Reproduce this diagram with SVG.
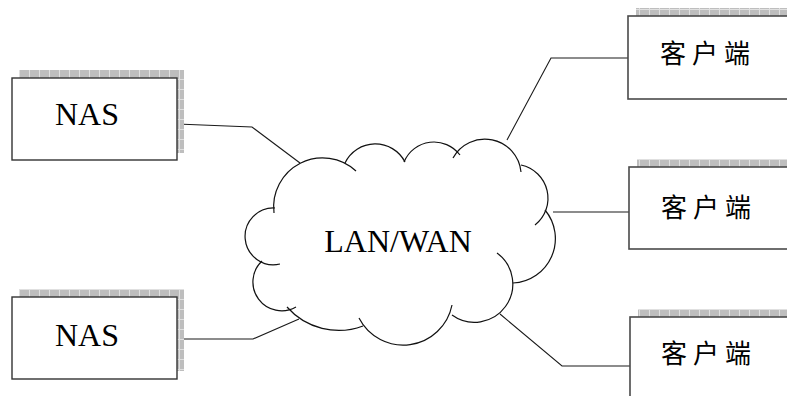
<svg xmlns="http://www.w3.org/2000/svg" width="787" height="396" viewBox="0 0 787 396">
  <defs>
    <!-- stippled grey texture used for the drop shadows -->
    <pattern id="shade" width="10" height="10" patternUnits="userSpaceOnUse">
      <rect width="10" height="10" fill="#bebebe"/>
      <path d="M9.5 0V10M0 9.5H10" stroke="#e0e0e0" stroke-width="1"/>
    </pattern>
  </defs>
  <style>
    .shadow { fill: url(#shade); }
    .box { fill: #ffffff; stroke: #333333; stroke-width: 1.4; }
    .client .box { stroke: #4a4a4a; stroke-width: 1.6; }
    .lbl { font-family: "Liberation Serif", "Times New Roman", serif; font-size: 32px; fill: #000000; }
    .cjk { font-family: "Noto Sans CJK SC", "Noto Sans CJK TC", sans-serif; font-size: 26px; letter-spacing: 6px; fill: #000000; }
    .wire { fill: none; stroke: #1a1a1a; stroke-width: 1.1; }
    .cloud path { fill: none; stroke: #111111; stroke-width: 1.2; }
  </style>
  <rect width="787" height="396" fill="#ffffff"/>

  <!-- connectors -->
  <g id="connectors">
    <polyline class="wire" points="177,124 252,127 300,163"/>
    <polyline class="wire" points="177,339 253,339 299,319"/>
    <polyline class="wire" points="507,140 551,58 628,58"/>
    <polyline class="wire" points="553,212 629,212"/>
    <polyline class="wire" points="500,314 562,366 630,366"/>
  </g>

  <!-- network cloud built from overlapping arcs -->
  <g id="cloud" class="cloud">
    <path d="M274 213 A49 49 0 0 1 356 171"/>
    <path d="M345 163 A33.5 33.5 0 0 1 405 162"/>
    <path d="M404 162 A32.5 32.5 0 0 1 460 155"/>
    <path d="M453 158 A36.3 36.3 0 0 1 521 172"/>
    <path d="M521 165 A34 34 0 0 1 535 225"/>
    <path d="M545 210 A44.5 44.5 0 0 1 513 283"/>
    <path d="M497 253 A38.3 38.3 0 0 1 452 315"/>
    <path d="M359 318 A49.7 49.7 0 0 0 452 305"/>
    <path d="M287 307 A69 69 0 0 0 363 326"/>
    <path d="M262 261 A28.8 28.8 0 0 0 296 307"/>
    <path d="M275 208 A28.4 28.4 0 1 0 280 264"/>
    <text class="lbl" x="398" y="252" text-anchor="middle">LAN/WAN</text>
  </g>

  <g id="nas1">
    <rect class="shadow" x="19" y="70" width="165" height="83"/>
    <rect class="box" x="12" y="78" width="165" height="82"/>
    <text class="lbl" x="55" y="125">NAS</text>
  </g>

  <g id="nas2">
    <rect class="shadow" x="19" y="289" width="165" height="82"/>
    <rect class="box" x="12" y="297" width="165" height="82"/>
    <text class="lbl" x="55" y="346">NAS</text>
  </g>

  <g id="client1" class="client">
    <rect class="shadow" x="636" y="8" width="160" height="83"/>
    <rect class="box" x="628" y="16" width="170" height="83"/>
    <text class="cjk" x="660" y="63">客户端</text>
  </g>

  <g id="client2" class="client">
    <rect class="shadow" x="637" y="159" width="160" height="82"/>
    <rect class="box" x="629" y="167" width="170" height="82"/>
    <text class="cjk" x="661" y="217">客户端</text>
  </g>

  <g id="client3" class="client">
    <rect class="shadow" x="638" y="309" width="160" height="82"/>
    <rect class="box" x="630" y="317" width="170" height="100"/>
    <text class="cjk" x="661" y="363">客户端</text>
  </g>
</svg>
